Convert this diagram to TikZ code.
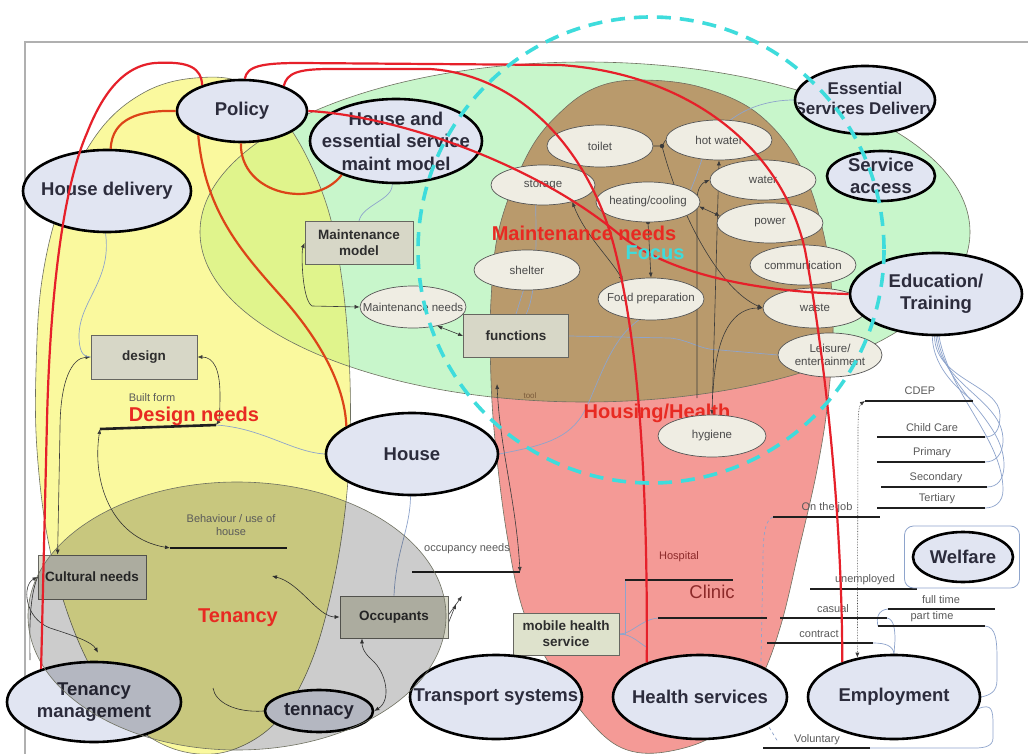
\documentclass[tikz,border=0pt]{standalone}
\usepackage{fontspec}
\setmainfont{Liberation Sans}
\usetikzlibrary{shapes.geometric,arrows.meta,calc}
\pgfdeclarelayer{regions}
\pgfdeclarelayer{lines}
\pgfdeclarelayer{over}
\pgfdeclarelayer{top}
\pgfsetlayers{regions,lines,main,over,top}
\definecolor{yellowc}{HTML}{FAF99E}
\definecolor{greenc}{HTML}{C8F6CB}
\definecolor{ygc}{HTML}{E0F48C}
\definecolor{pinkc}{HTML}{F49A96}
\definecolor{brownc}{HTML}{B99A6C}
\definecolor{ovalfill}{HTML}{E1E5F2}
\definecolor{ovaltext}{HTML}{2C2C3C}
\definecolor{subfill}{HTML}{EFEDE3}
\definecolor{subdraw}{HTML}{555555}
\definecolor{subtext}{HTML}{4A4A4A}
\definecolor{boxfill}{HTML}{D7D7C7}
\definecolor{mhsfill}{HTML}{DEE2CC}
\definecolor{boxdraw}{HTML}{666660}
\definecolor{boxtext}{HTML}{2E2E2E}
\definecolor{redc}{HTML}{E6202A}
\definecolor{redo}{HTML}{DC4418}
\definecolor{redlbl}{HTML}{E82A22}
\definecolor{cyanc}{HTML}{3EDCDC}
\definecolor{framec}{HTML}{B0B0B0}
\definecolor{conc}{HTML}{3A3A3A}
\definecolor{bluec}{HTML}{8EA4CC}
\definecolor{lblc}{HTML}{5A5A5A}
\definecolor{clinicc}{HTML}{8C2A2A}
\definecolor{bordc}{HTML}{6E7060}
\definecolor{toolc}{HTML}{7A5A3A}
\newcommand\yshape[1]{\path[#1] plot[smooth cycle,tension=0.6] coordinates {(195,78) (245,84) (290,128) (325,200) (342,280) (350,380) (348,480) (335,575) (312,660) (278,720) (232,750) (185,752) (140,730) (100,683) (70,620) (48,540) (37,450) (36,370) (42,280) (62,200) (100,130) (145,92)};}
\newcommand\pshape[1]{\path[#1] plot[smooth cycle,tension=0.6] coordinates {(642,80) (700,87) (757,113) (800,165) (825,240) (833,320) (828,400) (817,470) (800,545) (780,628) (757,685) (718,733) (665,752) (622,748) (587,718) (550,665) (523,610) (507,535) (496,450) (491,380) (491,300) (500,225) (530,150) (565,108) (600,86)};}
\newcommand\shp[6]{\node[#1,minimum width=#4pt,minimum height=#5pt] (#2) at (#3) {}; \node[#1 text] (#2t) at (#2.center) {#6};}
\begin{document}
\begin{tikzpicture}[x=1pt,y=-1pt,
 big/.style={ellipse, draw=black, line width=2.6pt, fill=ovalfill, inner sep=0pt},
 big text/.style={font=\bfseries\fontsize{18.5}{22.5}\selectfont, text=ovaltext, align=center, inner sep=0pt},
 sub/.style={ellipse, draw=subdraw, line width=0.7pt, fill=subfill, inner sep=0pt},
 sub text/.style={font=\fontsize{11.5}{13}\selectfont, text=subtext, align=center, inner sep=0pt},
 box/.style={rectangle, draw=boxdraw, line width=0.8pt, fill=boxfill, inner sep=0pt},
 box text/.style={font=\bfseries\fontsize{13.5}{16}\selectfont, text=boxtext, align=center, inner sep=0pt},
 redl/.style={draw=redc, line width=2.2pt},
 redo/.style={draw=redo, line width=2.2pt},
 conn/.style={draw=conc, line width=0.6pt},
 bthin/.style={draw=bluec, line width=0.7pt},
 hline/.style={draw=black!88, line width=2.6pt},
 lbl/.style={font=\fontsize{11}{13}\selectfont, text=lblc, inner sep=0pt, align=center},
 region/.style={font=\bfseries\fontsize{20}{24}\selectfont, text=redlbl, inner sep=0pt},
 arr/.style={-{Latex[length=5pt,width=4pt]}},
 arrs/.style={{Latex[length=5pt,width=4pt]}-{Latex[length=5pt,width=4pt]}},
]
\useasboundingbox (0,0) rectangle (1028,754);

% ---------- regions ----------
\begin{pgfonlayer}{regions}
\fill[white] (0,0) rectangle (1028,754);
\draw[framec, line width=2pt] (25,770) -- (25,42) -- (1040,42);
\yshape{fill=yellowc}
\fill[greenc] (585,232) ellipse [x radius=385, y radius=170];
\begin{scope}
 \clip (585,232) ellipse [x radius=385, y radius=170];
 \yshape{fill=ygc}
\end{scope}
\pshape{fill=pinkc}
\begin{scope}
 \clip (585,232) ellipse [x radius=385, y radius=170];
 \pshape{fill=brownc}
\end{scope}
\yshape{draw=bordc, line width=0.6pt}
\draw[bordc, line width=0.6pt] (585,232) ellipse [x radius=385, y radius=170];
\pshape{draw=bordc, line width=0.6pt}
\end{pgfonlayer}

% ---------- free coordinates ----------
\coordinate (bf1) at (100,429); \coordinate (bf2) at (216,425);
\coordinate (bh1) at (170,548); \coordinate (bh2) at (287,548);
\coordinate (oc1) at (412,572); \coordinate (oc2) at (520,572);
\coordinate (hp1) at (625,580); \coordinate (hp2) at (733,580);
\coordinate (cl1) at (658,618); \coordinate (cl2) at (767,618);
\coordinate (ca1) at (780,618); \coordinate (ca2) at (887,618);
\coordinate (cd1) at (865,401); \coordinate (cd2) at (973,401);
\coordinate (ch1) at (877,437); \coordinate (ch2) at (985,437);
\coordinate (pr1) at (877,462); \coordinate (pr2) at (985,462);
\coordinate (se1) at (881,487); \coordinate (se2) at (987,487);
\coordinate (te1) at (877,508); \coordinate (te2) at (985,508);
\coordinate (oj1) at (773,517); \coordinate (oj2) at (880,517);
\coordinate (un1) at (810,589); \coordinate (un2) at (917,589);
\coordinate (ft1) at (888,609); \coordinate (ft2) at (995,609);
\coordinate (pt1) at (878,626); \coordinate (pt2) at (985,626);
\coordinate (co1) at (767,643); \coordinate (co2) at (873,643);
\coordinate (vo1) at (763,748); \coordinate (vo2) at (870,748);
\coordinate (tb) at (272,576);
\coordinate (tl) at (497,384);
\coordinate (tn) at (213,688);
\coordinate (jn) at (662,146);
\coordinate (v2b) at (697,398);
\coordinate (v1b) at (713,392);
\coordinate (vox) at (778,742);
\coordinate (mhx) at (648,648);
\coordinate (oca) at (462,596);
\coordinate (ocb) at (456,604);

% ---------- nodes ----------
\node[draw=bluec, line width=0.8pt, rounded corners=9pt, minimum width=115pt, minimum height=62pt, inner sep=0pt] (wbox) at (962,557) {};

\shp{box}{mmod}{359,243}{108}{43}{Maintenance\\model}
\shp{box}{func}{516,336}{105}{43}{functions}
\shp{box}{design}{144,357}{106}{44}{design}
\shp{box}{cult}{92,577}{108}{44}{Cultural needs}
\shp{box}{occ}{394,617}{108}{42}{Occupants}
\node[box, fill=mhsfill, minimum width=106pt, minimum height=42pt] (mhs) at (566,634) {};
\node[box text] (mhst) at (mhs.center) {mobile health\\service};

\shp{sub}{toilet}{600,146}{106}{42}{toilet}
\shp{sub}{hotw}{719,140}{106}{40}{hot water}
\shp{sub}{storage}{543,185}{104}{40}{storage}
\shp{sub}{heat}{648,202}{104}{40}{heating/cooling}
\shp{sub}{water}{763,180}{106}{40}{water}
\shp{sub}{power}{770,223}{106}{40}{power}
\shp{sub}{comm}{803,265}{106}{40}{communication}
\shp{sub}{shelter}{527,270}{106}{40}{shelter}
\shp{sub}{food}{651,299}{106}{42}{Food preparation}
\shp{sub}{waste}{815,308}{104}{40}{waste}
\shp{sub}{leis}{830,355}{104}{44}{Leisure/\\entertainment}
\shp{sub}{mneeds}{413,307}{106}{42}{Maintenance needs}

\shp{big}{policy}{242,111}{130}{62}{Policy}
\shp{big}{hesm}{396,141}{172}{84}{House and\\essential service\\maint model}
\shp{big}{hdel}{107,191}{168}{82}{House delivery}
\node[big, minimum width=140pt, minimum height=68pt] (esd) at (865,100) {};
\begin{scope}
 \clip (865,100) ellipse [x radius=68, y radius=32];
 \node[big text, font=\bfseries\fontsize{17}{20}\selectfont] (esdt) at (865,100) {Essential\\Services Delivery};
\end{scope}
\shp{big}{sacc}{881,176}{108}{50}{Service\\access}
\shp{big}{edu}{936,294}{172}{82}{Education/\\Training}
\shp{big}{house}{412,454}{172}{82}{House}
\shp{big}{tman}{94,702}{174}{80}{Tenancy\\management}
\shp{big}{tenn}{319,711}{108}{42}{tennacy}
\shp{big}{trans}{496,697}{172}{84}{Transport systems}
\shp{big}{hsvc}{700,697}{174}{84}{Health services}
\shp{big}{emp}{894,697}{172}{84}{Employment}
\shp{big}{welf}{963,557}{100}{50}{Welfare}

% ---------- thin connectors and lines (behind nodes) ----------
\begin{pgfonlayer}{lines}
% left side
\draw[conn,arrs] (design.west) .. controls (72,358) and (60,380) .. (60,430) -- ([xshift=20pt]cult.north west);
\draw[bthin] (hdel.268) .. controls (112,280) and (80,300) .. (79,335) .. controls (79,350) and (82,357) .. (design.west);
\draw[conn,arrs] (design.east) .. controls (214,357) and (220,370) .. (220,395) .. controls (220,413) and (219,421) .. (bf2);
\draw[conn,arrs] (bf1) .. controls (92,480) and (110,538) .. (bh1);
\draw[bthin] (bf2) .. controls (262,428) and (292,452) .. (house.west);
\draw[conn,arrs] (tb) .. controls (300,583) and (318,617) .. (occ.west);
\draw[conn,arrs] (tenn.east) .. controls (392,700) and (386,672) .. (372,660) .. controls (363,652) and (362,646) .. ([xshift=-32pt]occ.south);
\draw[conn,arr] ([yshift=2pt]occ.east) -- (oca);
\draw[conn,arr] ([yshift=-6pt]occ.east) -- (ocb);
\draw[conn,arrs] (tl) .. controls (500,450) and (516,500) .. (oc2);
\draw[conn,arrs] (mmod.west) .. controls (301,252) and (302,300) .. (312,306) -- (mneeds.west);
\draw[conn,arrs] (func.west) -- (mneeds.-38);
\draw[conn,arrs] (cult.west) .. controls (22,585) and (24,618) .. (50,628) .. controls (75,636) and (92,642) .. ([xshift=4pt,yshift=8pt]tman.north);
\draw[conn] (cult.west) .. controls (28,600) and (30,640) .. (30,660);
\draw[conn] (tenn.west) .. controls (235,713) and (215,702) .. (tn);
\draw[bthin] (house.268) .. controls (410,530) and (396,550) .. (occ.north);
\draw[bthin] (hesm.265) .. controls (393,200) and (362,205) .. (mmod.north);
\draw[bthin] (house.east) .. controls (540,446) and (570,440) .. (585,410) .. controls (600,380) and (610,340) .. (food.240);
\draw[bthin] (func.east) -- (670,338) .. controls (690,340) and (700,350) .. (720,350) -- (leis.west);
\draw[bthin] (storage.250) .. controls (536,230) and (538,290) .. (func.65);
\draw[bthin] (shelter.-100) -- (func.north);
\draw[bthin] (esd.west) .. controls (760,100) and (715,115) .. (700,165) .. controls (690,195) and (680,212) .. (heat.-30);
% brown area
\draw[conn] (toilet.east) -- (jn) -- (hotw.west);
\fill[conc] (jn) circle [radius=2.2];
\draw[conn,arr] (jn) .. controls (680,215) and (720,290) .. (waste.west);
\draw[conn,arrs] (hotw.south) -- (712,415);
\draw[conn,arr] (v2b) -- (697,200) .. controls (697,188) and (702,183) .. (water.west);
\draw[conn,arr] (v1b) .. controls (716,330) and (735,308) .. (waste.west);
\draw[conn,arrs] (storage.-30) .. controls (585,235) and (610,258) .. (food.147);
\draw[conn,arr] (heat.south) -- (food.north);
\fill[conc] (heat.south) circle [radius=2];
\draw[conn,arrs] (heat.-5) -- (power.172);
% right side
\draw[bthin] (edu.265) .. controls (933,370) and (962,392) .. (cd2);
\draw[bthin] (edu.268) .. controls (935,380) and (1000,385) .. (1000,415) .. controls (1000,430) and (995,437) .. (ch2);
\draw[bthin] (edu.270) .. controls (940,385) and (1003,400) .. (1003,440) .. controls (1003,455) and (995,462) .. (pr2);
\draw[bthin] (edu.272) .. controls (945,390) and (1004,420) .. (1004,465) .. controls (1004,480) and (997,487) .. (se2);
\draw[bthin] (edu.274) .. controls (950,395) and (1003,440) .. (1003,490) .. controls (1003,502) and (995,508) .. (te2);
\draw[bthin] (pt2) .. controls (996,627) and (997,640) .. (997,660) -- (997,680) .. controls (997,692) and (990,695) .. (emp.east);
\draw[bthin] (emp.-8) .. controls (992,703) and (993,710) .. (993,725) -- (993,738) .. controls (993,746) and (985,748) .. (975,748) -- (vo2);
\draw[bthin] (ca2) .. controls (894,619) and (895,630) .. (895,640) -- (emp.north);
\draw[bthin] (co2) .. controls (886,643) and (893,646) .. (emp.north);
\draw[bthin] (ft1) .. controls (878,610) and (876,618) .. (pt1);
\draw[bthin,dashed] (oj1) .. controls (766,520) and (763,530) .. (763,560) -- (760,712) -- (vox);
\draw[conn,densely dotted,arrs] (cd1) .. controls (859,405) and (858,415) .. (858,430) -- (emp.133);
\draw[bthin] (mhs.east) -| (hp1);
\draw[bthin] (mhs.east) .. controls (632,634) and (640,620) .. (cl1);
\draw[bthin] (mhs.east) .. controls (632,634) and (640,644) .. (mhx);
% thick lines
\foreach \a/\b in {bf1/bf2,bh1/bh2,oc1/oc2,hp1/hp2,cl1/cl2,ca1/ca2,cd1/cd2,ch1/ch2,pr1/pr2,se1/se2,te1/te2,oj1/oj2,un1/un2,ft1/ft2,pt1/pt2,co1/co2,vo1/vo2}
  \draw[hline] (\a) -- (\b);
\end{pgfonlayer}

% ---------- tenancy overlay ----------
\begin{pgfonlayer}{over}
\fill[black, fill opacity=0.2] (237,616) ellipse [x radius=209, y radius=134];
\draw[bordc, line width=0.6pt] (237,616) ellipse [x radius=209, y radius=134];
\end{pgfonlayer}

% ---------- labels, red lines, focus circle ----------
\begin{pgfonlayer}{top}
\node[lbl] (bfl) at (152,398) {Built form};
\node[region] (dnl) at (194,416) {Design needs};
\node[lbl] (bhl) at (231,525) {Behaviour / use of\\house};
\node[region] (tnl) at (238,618) {Tenancy};
\node[lbl] (ocl) at (467,549) {occupancy needs};
\node[lbl, text=clinicc] (hpl) at (679,557) {Hospital};
\node[font=\fontsize{18.5}{22}\selectfont, text=clinicc, inner sep=0pt] (cll) at (712,592) {Clinic};
\node[lbl] (cal) at (833,609) {casual};
\node[lbl] (cdl) at (920,391) {CDEP};
\node[lbl] (chl) at (932,428) {Child Care};
\node[lbl] (prl) at (932,453) {Primary};
\node[lbl] (sel) at (936,478) {Secondary};
\node[lbl] (tel) at (937,499) {Tertiary};
\node[lbl] (ojl) at (827,508) {On the job};
\node[lbl] (unl) at (865,580) {unemployed};
\node[lbl] (ftl) at (941,600) {full time};
\node[lbl] (ptl) at (932,617) {part time};
\node[lbl] (col) at (819,634) {contract};
\node[lbl] (vol) at (817,740) {Voluntary};
\node[font=\fontsize{8}{9}\selectfont, text=toolc, inner sep=0pt] (tll) at (530,396) {tool};

% red lines
\draw[redl] (tman.148) -- (47,420) .. controls (50,300) and (62,190) .. (87,133) .. controls (100,100) and (120,66) .. (155,63) .. controls (190,61) and (201,68) .. (policy.147);
\draw[redo] (policy.west) .. controls (140,110) and (112,118) .. (hdel.85);
\draw[redo] (policy.209) .. controls (205,210) and (240,250) .. (280,295) .. controls (325,345) and (345,390) .. (house.157);
\draw[redo] (policy.268) .. controls (240,195) and (315,210) .. (hesm.212);
\draw[redl] (policy.east) .. controls (390,115) and (530,160) .. (620,235) .. controls (670,275) and (760,292) .. (edu.west);
\draw[redl] (policy.85) .. controls (247,66) and (262,63) .. (300,63) -- (560,65) .. controls (680,73) and (780,140) .. (805,250) .. controls (822,340) and (842,500) .. (emp.146);
\draw[redl] (policy.31) .. controls (287,73) and (298,69) .. (330,69) -- (430,69) .. controls (520,75) and (590,150) .. (615,250) .. controls (635,330) and (648,450) .. (hsvc.147);

% region labels on top
\node[region] (mnl) at (584,233) {Maintenance needs};
\node[region, text=cyanc] (fcl) at (655,253) {Focus};
\node[region] (hhl) at (657,413) {Housing/Health};
\shp{sub}{hyg}{712,436}{108}{42}{hygiene}

% focus circle
\draw[cyanc, line width=3.6pt, dash pattern=on 14pt off 9pt] (651,250) circle [radius=233];
\end{pgfonlayer}
\end{tikzpicture}
\end{document}
